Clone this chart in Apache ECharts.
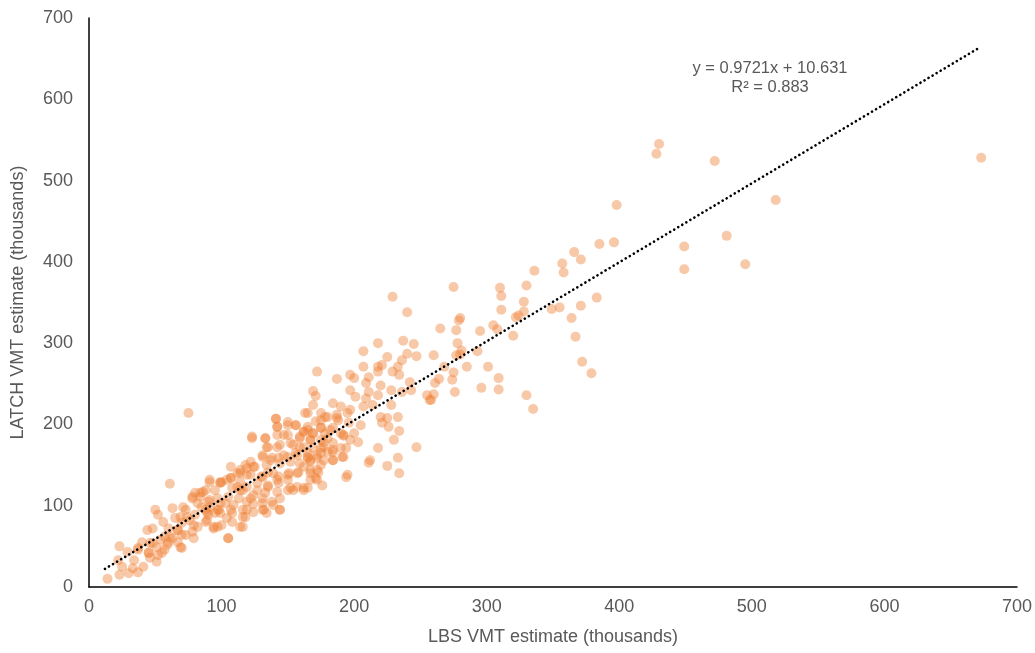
<!DOCTYPE html>
<html>
<head>
<meta charset="utf-8">
<script src="https://cdn.jsdelivr.net/npm/echarts@6/dist/echarts.min.js"></script>
<style>
  html, body { margin: 0; padding: 0; background: #fff; }
  #chart { width: 1035px; height: 653px; }
</style>
</head>
<body>
<div id="chart"></div>
<script>
// LBS vs LATCH VMT estimates (thousands)
const samples = [
  [430,545],[428,533],[472,524],[673,528],[398,470],[518,476],[385,422],[396,424],[449,419],[481,432],
  [449,391],[495,397],[383,356],[379,263],[372,277],
  [366,412],[371,403],[357,398],[358,387],[336,389],[275,369],[310,368],[311,358],[330,371],[328,351],
  [311,341],[328,339],[349,342],[355,344],[371,346],[364,331],[367,308],[322,332],[324,334],[280,331],
  [279,328],[265,318],[277,316],[295,315],[305,322],[308,317],[320,309],[278,300],[281,291],[293,290],
  [277,285],[280,286],[260,285],[268,271],[285,271],[301,271],[275,264],[274,255],[264,256],[261,251],
  [309,257],[296,245],[309,243],[276,240],[260,237],[258,230],[330,236],[335,219],
  [229,357],[240,338],[218,300],[237,303],[245,299],[207,290],[240,287],[247,284],[225,283],[236,279],
  [172,265],[207,271],[218,271],[218,265],[221,273],[229,265],[233,271],[234,261],[211,258],[197,261],
  [200,257],[187,256],[209,251],[220,248],[242,252],[197,242],[211,240],[228,242],[169,241],[171,235],
  [201,234],[209,232],[218,236],[255,236],[257,230],[236,240],[243,242],[169,224],[184,226],[190,222],
  [197,218],[207,222],[214,224],[228,224],[165,214],[175,214],[180,209],[187,212],[195,214],[188,205],
  [196,202],[205,199],[220,209],[225,208],[233,209],[221,202],[226,197],[234,192],[165,197],[175,196],
  [184,196],[162,191],[169,189],[178,189],[192,187],[200,189],[159,183],[167,181],[175,181],[184,177],
  [197,181],[203,178],[159,172],[169,171],[177,172],[190,171],[230,181],[247,172],[218,171],[165,165],
  [175,165],[184,166],[167,156],[177,156],[184,156],[191,160],[212,156],[211,153],[233,159],[162,148],
  [172,144],[225,149],[195,138],[234,140],[167,140],
  [175,205],[187,208],[141,207],[150,203],[156,199],[142,197],[165,193],[175,196],[182,193],[190,189],
  [123,185],[133,183],[142,187],[150,187],[159,185],[167,181],[180,183],[192,186],[134,172],[144,175],
  [154,175],[162,172],[175,171],[184,169],[194,171],[131,162],[138,159],[147,162],[156,165],[165,160],
  [172,162],[180,166],[184,156],[192,160],[122,154],[114,144],[119,146],[125,148],[134,150],[144,152],
  [152,154],[159,152],[167,154],[175,150],[112,140],[122,138],[131,135],[139,140],[150,138],[157,140],
  [171,134],[194,135],[104,132],[114,129],[127,128],[135,125],[143,128],[152,122],[162,119],[165,122],
  [91,132],[99,128],[88,119],[95,119],[108,122],[116,119],[124,113],[133,116],[142,117],[144,109],
  [105,111],[113,109],[84,111],[91,107],[99,103],[109,101],[119,105],[131,103],[139,101],[116,95],
  [124,92],[134,91],[144,95],[89,92],[95,91],[108,91],[104,85],
  [131,95],[124,102],[154,119],[150,132],[172,132],[114,74],[94,74],[116,86],[119,95],
  [61,127],[14,10],[100,129],[107,134],[80,116],[86,117],[78,109],[71,98],[82,103],[90,105],
  [97,109],[103,103],[63,97],[50,95],[73,95],[88,95],[97,95],[52,89],[65,85],[74,86],
  [80,89],[90,89],[99,91],[56,80],[70,79],[79,76],[88,80],[100,76],[108,80],[44,70],
  [48,72],[60,72],[67,70],[78,68],[94,72],[57,62],[63,60],[70,64],[79,60],[105,60],
  [40,55],[48,54],[60,55],[67,55],[23,50],[37,48],[51,49],[57,46],[70,48],[29,43],
  [45,42],[52,39],[22,33],[34,33],[46,36],[51,31],[25,25],[33,23],[41,25],[23,15],
  [30,17],[37,18],[75,214],
  [78,111],[84,116],[91,129],[99,129],[107,134],[114,140],[118,150],[124,148],[112,123],[119,123],
  [127,119],[135,123],[142,132],[150,119],[157,123],[162,122],[167,132],[173,141],[176,125],[123,183],
  [133,183],[141,207],[142,197],[150,199],[156,199],[163,214],[171,204],[178,209],[162,191],[169,189],
  [177,178],[147,187],[152,177],[142,172],[135,172],[131,160],[137,156],[143,159],[150,160],[157,162],
  [165,159],[172,159],[167,144],[158,141],[151,140],[143,136],[135,141],[130,136],[119,138],[107,148],
  [114,119],[122,109],[131,109],[138,105],[144,95],[132,95],[118,86],[116,74],[105,60],[91,98],
  [98,95],[107,95],[85,98],[69,86],[76,82],[89,82],[97,74],[82,74],[67,70],[73,64],
  [61,62],[54,58],[46,54],[59,52],[69,49],[37,46],[45,42],[55,42]
];

// linear trend shown on the chart
const trendSlope = 0.9721;
const trendIntercept = 10.631;
const trendXRange = [12, 672];
const trendLabel = ['y = 0.9721x + 10.631', 'R\u00b2 = 0.883'];

const xTitle = 'LBS VMT estimate (thousands)';
const yTitle = 'LATCH VMT estimate (thousands)';

const chart = echarts.init(document.getElementById('chart'));
const textColor = '#595959';
const fontFamily = "'Liberation Sans', Arial, sans-serif";

const axisCommon = {
  type: 'value',
  min: 0,
  max: 700,
  interval: 100,
  nameLocation: 'middle',
  nameTextStyle: { color: textColor, fontSize: 18, fontFamily: fontFamily },
  axisLine: { show: true, lineStyle: { color: '#000', width: 1.5 } },
  axisTick: { show: false },
  splitLine: { show: false },
  axisLabel: { color: textColor, fontSize: 18, fontFamily: fontFamily }
};

chart.setOption({
  animation: false,
  grid: { left: 89, right: 18, top: 18, bottom: 66 },
  xAxis: Object.assign({}, axisCommon, {
    name: xTitle,
    nameGap: 41,
    axisLabel: Object.assign({}, axisCommon.axisLabel, { margin: 11 })
  }),
  yAxis: Object.assign({}, axisCommon, {
    name: yTitle,
    nameGap: 62,
    axisLabel: Object.assign({}, axisCommon.axisLabel, { margin: 16 })
  }),
  graphic: [{
    type: 'text',
    left: 770 - 90,
    top: 59,
    style: {
      text: trendLabel.join('\n'),
      fill: textColor,
      font: "16.5px 'Liberation Sans', Arial, sans-serif",
      textAlign: 'center',
      lineHeight: 19,
      width: 180
    }
  }],
  series: [
    {
      type: 'scatter',
      data: samples,
      symbolSize: 10,
      itemStyle: { color: 'rgba(237,125,49,0.52)' }
    },
    {
      type: 'line',
      data: trendXRange.map(x => [x, trendSlope * x + trendIntercept]),
      symbol: 'none',
      lineStyle: { color: '#000', width: 2.6, type: [0.1, 4.6], cap: 'round' },
      z: 3
    }
  ]
});
</script>
</body>
</html>
